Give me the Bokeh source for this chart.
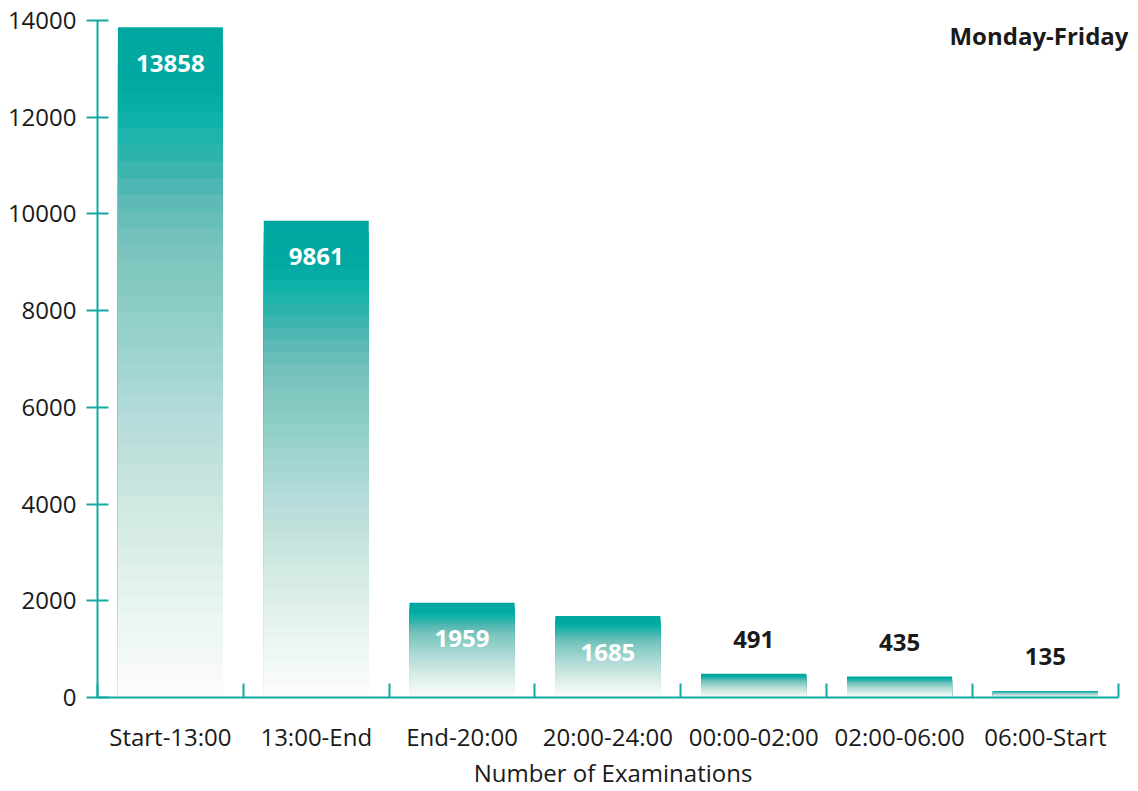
import numpy as np
from bokeh.plotting import figure
from bokeh.core.properties import value
from bokeh.models import (ColumnDataSource, Range1d, LinearAxis,
                          FixedTicker, LabelSet, Label)
from bokeh.embed import file_html
from bokeh.resources import INLINE

# ---- data -------------------------------------------------------------
time_slots = ["Start-13:00", "13:00-End", "End-20:00", "20:00-24:00",
              "00:00-02:00", "02:00-06:00", "06:00-Start"]
examinations = [13858, 9861, 1959, 1685, 491, 435, 135]
y_ticks = [0, 2000, 4000, 6000, 8000, 10000, 12000, 14000]
panel_title = "Monday-Friday"
x_title = "Number of Examinations"

# ---- style ------------------------------------------------------------
TEAL = "#13a9a2"
TEXT = "#1a1a1a"
FONT = "Open Sans"
FS = "24px"
BAR_WIDTH = 0.72
N_STRIPES = 40
RIGHT_PAD = 0.07  # spare room right of the last category for the title

# colour ramp, as (fraction from bar top, colour)
ramp = [
    (0.00, "#00a7a0"), (0.10, "#02a9a1"), (0.14, "#12b3aa"), (0.20, "#33b4ac"),
    (0.25, "#58b8b5"), (0.33, "#79c4bd"), (0.45, "#93d1c8"), (0.58, "#b5dbdb"),
    (0.63, "#bee0d9"), (0.75, "#d5ebe6"), (0.85, "#e6f3ee"), (0.97, "#f8fbfa"),
    (1.00, "#fdfefe"),
]


def shade(f):
    pos = [r[0] for r in ramp]
    rgb = np.array([[int(c[i:i + 2], 16) for i in (1, 3, 5)] for _, c in ramp])
    col = [int(round(np.interp(f, pos, rgb[:, j]))) for j in range(3)]
    return "#%02x%02x%02x" % tuple(col)


n = len(time_slots)
xpos = list(range(n))

# stacked stripes: each one runs from the baseline up, later ones paint over
# the lower part of the earlier ones, giving a top-to-bottom gradient
sx, stop, scol = [], [], []
for k in range(N_STRIPES):
    c = shade((k + 0.5) / N_STRIPES)
    for x, v in zip(xpos, examinations):
        sx.append(x)
        stop.append(v * (1 - k / N_STRIPES))
        scol.append(c)
stripes = ColumnDataSource(dict(x=sx, top=stop, color=scol))

p = figure(width=1138, height=791,
           x_range=Range1d(-0.5, n - 0.5 + RIGHT_PAD),
           y_range=Range1d(0, 14000),
           x_axis_location=None,
           output_backend="svg", toolbar_location=None,
           min_border_left=97, min_border_right=10,
           min_border_top=20, min_border_bottom=92)
p.outline_line_color = None
p.grid.visible = False
p.background_fill_color = "white"
p.border_fill_color = "white"

p.vbar(x="x", top="top", bottom=0, width=BAR_WIDTH, color="color",
       line_color=None, source=stripes)

# ---- value labels -----------------------------------------------------
inside = [i for i, v in enumerate(examinations) if v > 1000]
outside = [i for i, v in enumerate(examinations) if v <= 1000]
src_in = ColumnDataSource(dict(x=[xpos[i] for i in inside],
                               y=[examinations[i] for i in inside],
                               t=[str(examinations[i]) for i in inside]))
src_out = ColumnDataSource(dict(x=[xpos[i] for i in outside],
                                y=[examinations[i] for i in outside],
                                t=[str(examinations[i]) for i in outside]))
p.add_layout(LabelSet(x="x", y="y", text="t", source=src_in, y_offset=-36,
                      text_align="center", text_baseline="middle",
                      text_font=value(FONT), text_font_size=value(FS),
                      text_font_style="bold", text_color="white"))
p.add_layout(LabelSet(x="x", y="y", text="t", source=src_out, y_offset=34,
                      text_align="center", text_baseline="middle",
                      text_font=value(FONT), text_font_size=value(FS),
                      text_font_style="bold", text_color=TEXT))

p.add_layout(Label(x=n - 0.5 + RIGHT_PAD, y=14000,
                   text=panel_title, x_offset=0, y_offset=-15,
                   text_align="right", text_baseline="middle",
                   text_font=FONT, text_font_size=FS, text_font_style="bold",
                   text_color=TEXT))

# ---- axes -------------------------------------------------------------
yax = p.yaxis[0]
yax.ticker = FixedTicker(ticks=y_ticks)
yax.axis_line_color = TEAL
yax.axis_line_width = 2
yax.major_tick_line_color = TEAL
yax.major_tick_line_width = 2
yax.major_tick_in = 11
yax.major_tick_out = 11
yax.minor_tick_line_color = None
yax.major_label_standoff = 10
yax.major_label_text_font = FONT
yax.major_label_text_font_size = FS
yax.major_label_text_color = TEXT

# category boundary ticks along the baseline
tick_axis = LinearAxis(ticker=FixedTicker(ticks=[x - 0.5 for x in xpos] + [n - 0.5]),
                       bounds=(-0.5, n - 0.5),
                       axis_line_color=TEAL, axis_line_width=2,
                       major_tick_line_color=TEAL, major_tick_line_width=2,
                       major_tick_in=14, major_tick_out=0,
                       minor_tick_line_color=None,
                       major_label_text_font_size="1px",
                       major_label_text_alpha=0, major_label_standoff=0)
# category names under the bar centres
label_axis = LinearAxis(ticker=FixedTicker(ticks=xpos),
                        major_label_overrides={x: s for x, s in zip(xpos, time_slots)},
                        axis_line_color=None, major_tick_line_color=None,
                        minor_tick_line_color=None,
                        major_label_standoff=16,
                        major_label_text_font=FONT,
                        major_label_text_font_size=FS,
                        major_label_text_color=TEXT,
                        axis_label=x_title,
                        axis_label_standoff=0,
                        axis_label_text_font=FONT,
                        axis_label_text_font_size=FS,
                        axis_label_text_font_style="normal",
                        axis_label_text_color=TEXT)
p.add_layout(tick_axis, "below")
p.add_layout(label_axis, "below")

open("out.html", "w").write(file_html(p, INLINE))
